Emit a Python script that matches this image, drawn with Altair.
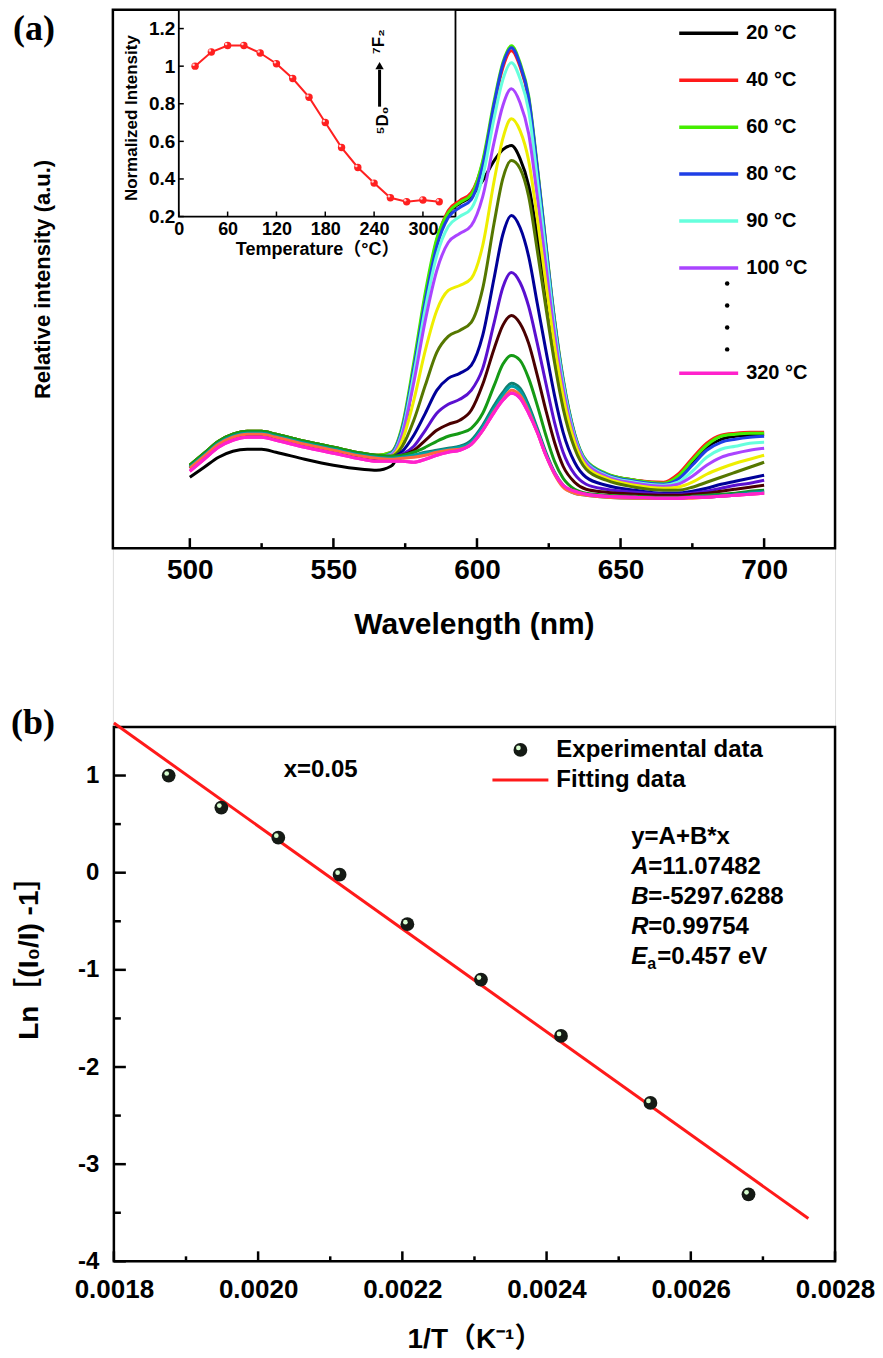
import altair as alt
import pandas as pd

FONT = "Liberation Sans, Arial, Noto Sans CJK SC, sans-serif"
SERIF = "Liberation Serif, Times New Roman, serif"

# ---------------- data: panel (a) spectra (relative intensity, a.u.) ----------------
wavelength = [500, 505, 510, 515, 520, 525, 530, 540, 550, 560, 565, 570, 574, 578, 582,
              586, 590, 594, 598, 602, 606, 609, 612, 615, 618, 621, 624, 627, 630, 634,
              638, 645, 655, 665, 670, 675, 680, 685, 690, 695, 700]

spectra_labels = ["20 °C", "40 °C", "60 °C", "80 °C", "90 °C", "100 °C", "120 °C", "140 °C",
                  "160 °C", "180 °C", "200 °C", "220 °C", "240 °C", "260 °C", "280 °C", "320 °C"]
spectra_colors = ["#000000", "#ff1a1a", "#44ee00", "#1f3fe6", "#66ffdd", "#aa44ff", "#eeee00",
                  "#557700", "#000099", "#5a10d0", "#4a0000", "#159a15", "#118070", "#00a0a8",
                  "#ff6a40", "#ff22cc"]

s20 = [23, 33, 43, 49, 51, 51, 48, 41, 35, 31, 30, 34, 60, 125, 200, 257, 287, 297, 304, 320, 340,
       351, 355, 342, 315, 265, 210, 155, 105, 60, 37, 26, 20, 17, 23, 38, 53, 61, 64, 65, 66]
s40 = [35, 47, 59, 66, 69, 69, 66, 59, 53, 47, 45, 48, 73, 134, 204, 260, 290, 300, 308, 338, 396,
       433, 450, 434, 401, 332, 255, 180, 120, 66, 39, 26, 20, 18, 26, 42, 57, 65, 67, 68, 68]
s60 = [35, 47, 59, 66, 69, 69, 66, 59, 53, 47, 45, 48, 75, 138, 208, 262, 288, 298, 306, 340, 400,
       438, 455, 438, 405, 335, 257, 182, 122, 67, 40, 27, 20, 17, 24, 40, 55, 64, 66, 67, 67]
s80 = [33, 45, 57, 64, 67, 67, 64, 57, 51, 45, 43, 47, 72, 132, 200, 254, 283, 293, 301, 335, 397,
       436, 453, 436, 403, 333, 255, 180, 120, 66, 39, 26, 19, 16, 21, 35, 50, 58, 61, 63, 64]
s90 = [33, 45, 57, 64, 67, 67, 64, 57, 51, 45, 43, 46, 69, 126, 192, 245, 274, 284, 292, 324, 383,
       421, 438, 422, 390, 322, 248, 175, 117, 64, 38, 25, 18, 15, 18, 29, 43, 51, 54, 57, 58]
s100 = [33, 45, 57, 64, 67, 67, 64, 57, 51, 45, 43, 45, 66, 118, 180, 230, 258, 267, 275, 304, 359,
        395, 412, 398, 367, 304, 235, 167, 112, 62, 37, 24, 17, 14, 16, 24, 35, 43, 47, 50, 52]
s120 = [33, 45, 57, 64, 67, 67, 64, 57, 51, 45, 43, 44, 60, 100, 150, 190, 210, 215, 222, 255, 320,
        362, 382, 370, 340, 282, 217, 155, 104, 58, 34, 22, 15, 12, 13, 18, 26, 32, 37, 41, 45]
s140 = [35, 47, 59, 66, 69, 69, 66, 59, 53, 47, 45, 44, 54, 80, 115, 148, 164, 170, 178, 212, 278,
        322, 340, 332, 304, 250, 193, 138, 92, 52, 31, 20, 13, 10, 10, 13, 18, 23, 28, 33, 38]
s160 = [32, 44, 56, 63, 66, 66, 63, 56, 50, 44, 42, 43, 49, 65, 87, 110, 122, 127, 135, 165, 223,
        266, 285, 273, 244, 197, 150, 105, 68, 38, 23, 15, 10, 7, 7, 9, 12, 16, 19, 22, 25]
s180 = [32, 44, 56, 63, 66, 66, 63, 56, 50, 44, 42, 43, 46, 54, 70, 87, 96, 101, 110, 132, 178,
        213, 228, 218, 194, 157, 117, 78, 48, 26, 16, 11, 8, 6, 6, 7, 9, 12, 15, 17, 20]
s200 = [32, 44, 56, 63, 66, 66, 63, 56, 50, 44, 42, 43, 45, 50, 60, 70, 76, 80, 90, 116, 152,
        175, 185, 177, 157, 125, 90, 58, 34, 18, 11, 8, 6, 5, 5, 6, 7, 9, 11, 13, 15]
s220 = [35, 47, 59, 66, 69, 69, 66, 59, 53, 47, 45, 44, 45, 48, 53, 59, 64, 67, 72, 87, 115,
        136, 145, 140, 122, 95, 65, 39, 22, 11, 7, 5, 4, 3, 3, 4, 5, 6, 7, 9, 10]
s240 = [33, 45, 57, 64, 67, 67, 64, 57, 51, 45, 43, 42, 43, 45, 48, 50, 52, 54, 60, 75, 95,
        108, 117, 112, 95, 72, 48, 28, 15, 8, 6, 4, 3, 2, 2, 3, 4, 5, 6, 8, 9]
s260 = [33, 45, 57, 64, 67, 67, 64, 57, 51, 45, 43, 42, 43, 45, 47, 49, 51, 53, 58, 73, 92,
        105, 114, 109, 92, 70, 46, 27, 14, 7, 5, 3, 2, 2, 2, 3, 3, 4, 5, 7, 8]
s280 = [32, 44, 56, 63, 66, 66, 63, 56, 50, 44, 42, 41, 42, 43, 45, 48, 50, 51, 56, 70, 89,
        101, 110, 105, 89, 68, 45, 26, 13, 7, 5, 3, 2, 2, 2, 2, 3, 4, 5, 6, 7]
s320 = [29, 41, 53, 60, 63, 63, 60, 53, 47, 41, 39, 39, 39, 38, 41, 45, 48, 50, 56, 70, 88,
        100, 107, 102, 87, 68, 45, 27, 15, 9, 6, 4, 3, 2, 2, 3, 3, 4, 5, 6, 7]
spectra_values = [s20, s40, s60, s80, s90, s100, s120, s140, s160, s180, s200, s220, s240,
                  s260, s280, s320]
legend_main = ["20 °C", "40 °C", "60 °C", "80 °C", "90 °C", "100 °C"]
legend_last = ["320 °C"]

# inset
inset_temp = [20, 40, 60, 80, 100, 120, 140, 160, 180, 200, 220, 240, 260, 280, 300, 320]
inset_norm = [1.0, 1.075, 1.11, 1.11, 1.07, 1.013, 0.934, 0.835, 0.70, 0.567, 0.461, 0.378,
              0.30, 0.279, 0.288, 0.279]

# ---------------- data: panel (b) ----------------
inv_T = [0.001876, 0.001949, 0.002028, 0.002113, 0.002207, 0.002309, 0.002420, 0.002544, 0.002680]
ln_ratio = [1.0, 0.67, 0.36, -0.02, -0.53, -1.10, -1.68, -2.37, -3.31]
fit_x = [0.0018, 0.002763]
fit_y = [1.54, -3.56]
legend_b = ["Experimental data", "Fitting data"]
fit_text = ["y=A+B*x", "=11.07482", "=-5297.6288", "=0.99754", "=0.457 eV"]

# tick values
xa_major = [500, 550, 600, 650, 700]
xa_minor = [525, 575, 625, 675]
xb_major = [0.0018, 0.0020, 0.0022, 0.0024, 0.0026, 0.0028]
xb_minor = [0.0019, 0.0021, 0.0023, 0.0025, 0.0027]
yb_major = [-4, -3, -2, -1, 0, 1]
yb_minor = [-3.5, -2.5, -1.5, -0.5, 0.5]
xi_major = [0, 60, 120, 180, 240, 300]
yi_major = [0.2, 0.4, 0.6, 0.8, 1.0, 1.2]

# ---------------- geometry ----------------
W, H = 723, 1253
A_H = 539
B_TOP = 718

rows = []
for lab, vals in zip(spectra_labels, spectra_values):
    for w, v in zip(wavelength, vals):
        rows.append({"label": lab, "wavelength": w, "intensity": v})
spec_df = pd.DataFrame(rows)
last_df = spec_df[spec_df["label"] == "320 °C"]
inset_df = pd.DataFrame({"T": inset_temp, "norm": inset_norm})
b_df = pd.DataFrame({"invT": inv_T, "ln": ln_ratio})
fit_df = pd.DataFrame({"invT": fit_x, "ln": fit_y})
dummy = pd.DataFrame({"d": [0]})

xa_scale = alt.Scale(domain=[473.2, 724.7], range=[0, W], nice=False, zero=False)
ya_scale = alt.Scale(domain=[-48, 491], range=[A_H, 0], nice=False, zero=False)
xb_scale = alt.Scale(domain=[0.0018, 0.0028], range=[1, W], nice=False, zero=False)
yb_scale = alt.Scale(domain=[-4, 1.5], range=[H, B_TOP], nice=False, zero=False)
xi_scale = alt.Scale(domain=[0, 340], range=[66, 343], nice=False, zero=False)
yi_scale = alt.Scale(domain=[0.2, 1.3], range=[207, 0], nice=False, zero=False)

lab_style = dict(labelFont=FONT, labelFontWeight="bold", labelColor="black",
                 titleFont=FONT, titleFontWeight="bold", titleColor="black",
                 ticks=False, domain=False, grid=False, labelFlush=False, labelOverlap=False)

# ---------------- panel (a) ----------------
lines = alt.Chart(spec_df).mark_line(strokeWidth=3, interpolate="monotone").encode(
    x=alt.X("wavelength:Q", scale=xa_scale,
            axis=alt.Axis(orient="bottom", offset=A_H - H, values=xa_major, labelFontSize=28,
                          labelPadding=8, title="Wavelength (nm)", titleFontSize=30,
                          titleY=76, titleBaseline="middle", **lab_style)),
    y=alt.Y("intensity:Q", scale=ya_scale,
            axis=alt.Axis(orient="left", labels=False, title="Relative intensity (a.u.)",
                          titleFontSize=22, titleX=-70, titleY=A_H / 2, titleAngle=270,
                          titleBaseline="middle", titleAlign="center", **lab_style)),
    color=alt.Color("label:N", scale=alt.Scale(domain=spectra_labels, range=spectra_colors),
                    legend=alt.Legend(title=None, orient="none", legendX=565, legendY=0,
                                      values=legend_main, symbolType="stroke", symbolSize=3481,
                                      symbolStrokeWidth=3.5, clipHeight=47, rowPadding=0,
                                      labelFont=FONT, labelFontSize=20, labelFontWeight="bold",
                                      labelColor="black", labelOffset=6, padding=0)),
    detail="label:N",
)

last_line = alt.Chart(last_df).mark_line(strokeWidth=3, interpolate="monotone").encode(
    x=alt.X("wavelength:Q", scale=xa_scale, axis=None),
    y=alt.Y("intensity:Q", scale=ya_scale, axis=None),
    stroke=alt.Stroke("label:N", scale=alt.Scale(domain=legend_last, range=["#ff22cc"]),
                      legend=alt.Legend(title=None, orient="none", legendX=565, legendY=340.5,
                                        symbolType="stroke", symbolSize=3481,
                                        symbolStrokeWidth=3.5, clipHeight=47, rowPadding=0,
                                        labelFont=FONT, labelFontSize=20, labelFontWeight="bold",
                                        labelColor="black", labelOffset=6, padding=0)),
)

dots = alt.Chart(pd.DataFrame({"k": [0, 1, 2, 3]})).mark_circle(size=20, color="black", opacity=1).encode(
    x=alt.value(615),
    y=alt.Y("k:Q", scale=alt.Scale(domain=[0, 3], range=[274, 340]), axis=None),
)

frame_a = alt.Chart(dummy).mark_rect(filled=False, stroke="black", strokeWidth=2.5).encode(
    x=alt.value(0), x2=alt.value(W), y=alt.value(0), y2=alt.value(A_H))

ticks_a_major = alt.Chart(pd.DataFrame({"v": xa_major})).mark_rule(color="black", strokeWidth=2.5).encode(
    x=alt.X("v:Q", scale=xa_scale, axis=None), y=alt.value(A_H), y2=alt.value(A_H - 10))
ticks_a_minor = alt.Chart(pd.DataFrame({"v": xa_minor})).mark_rule(color="black", strokeWidth=2.5).encode(
    x=alt.X("v:Q", scale=xa_scale, axis=None), y=alt.value(A_H), y2=alt.value(A_H - 5))

# inset
inset_frame = alt.Chart(dummy).mark_rect(filled=False, stroke="black", strokeWidth=1.8).encode(
    x=alt.value(66), x2=alt.value(343), y=alt.value(0), y2=alt.value(207))
inset_bg = alt.Chart(dummy).mark_rect(fill="white", opacity=1).encode(
    x=alt.value(66), x2=alt.value(343), y=alt.value(0), y2=alt.value(207))
inset_line = alt.Chart(inset_df).mark_line(color="#ff2020", strokeWidth=2).encode(
    x=alt.X("T:Q", scale=xi_scale,
            axis=alt.Axis(orient="bottom", offset=207 - H, values=xi_major, labelFontSize=18,
                          labelPadding=4, title="Temperature（°C）", titleFontSize=18,
                          titlePadding=2, **lab_style)),
    y=alt.Y("norm:Q", scale=yi_scale,
            axis=alt.Axis(orient="left", offset=-66, values=yi_major, format="~g",
                          labelFontSize=19, labelPadding=4, title="Normalized Intensity",
                          titleFontSize=17, titleX=-47, titleY=108, titleAngle=270,
                          titleBaseline="middle", titleAlign="center", **lab_style)),
)
inset_pts = alt.Chart(inset_df).mark_circle(size=55, color="#ff2020", opacity=1).encode(
    x=alt.X("T:Q", scale=xi_scale, axis=None), y=alt.Y("norm:Q", scale=yi_scale, axis=None))
inset_hl = alt.Chart(inset_df).mark_circle(size=6, color="#ffd0d0", opacity=1, xOffset=-1.5,
                                           yOffset=-1.5).encode(
    x=alt.X("T:Q", scale=xi_scale, axis=None), y=alt.Y("norm:Q", scale=yi_scale, axis=None))
ticks_i_x = alt.Chart(pd.DataFrame({"v": xi_major})).mark_rule(color="black", strokeWidth=1.5).encode(
    x=alt.X("v:Q", scale=xi_scale, axis=None), y=alt.value(207), y2=alt.value(202))
ticks_i_y = alt.Chart(pd.DataFrame({"v": yi_major})).mark_rule(color="black", strokeWidth=1.5).encode(
    y=alt.Y("v:Q", scale=yi_scale, axis=None), x=alt.value(66), x2=alt.value(71))


def text_mark(s, x, y, size=24, align="left", font=FONT, style="normal", angle=0):
    return alt.Chart(dummy).mark_text(text=s, fontSize=size, font=font, fontWeight="bold",
                                      fontStyle=style, color="black", align=align,
                                      baseline="middle", angle=angle).encode(
        x=alt.value(x), y=alt.value(y))


arrow_rule = alt.Chart(dummy).mark_rule(color="black", strokeWidth=3).encode(
    x=alt.value(267), y=alt.value(97), y2=alt.value(60))
arrow_head = alt.Chart(dummy).mark_point(shape="triangle-up", size=70, filled=True,
                                         color="black", opacity=1).encode(
    x=alt.value(267), y=alt.value(56))
lbl_5d0 = text_mark("⁵D₀", 270, 111, size=17, align="center", angle=270)
lbl_7f2 = text_mark("⁷F₂", 266, 32, size=17, align="center", angle=270)
label_a = text_mark("(a)", -79, 19, size=36, align="center", font=SERIF)

# ---------------- panel (b) ----------------
fit_line = alt.Chart(fit_df).mark_line(color="#ff1a1a", strokeWidth=3).encode(
    x=alt.X("invT:Q", scale=xb_scale,
            axis=alt.Axis(orient="bottom", offset=0, values=xb_major, format=".4f",
                          labelFontSize=26, labelPadding=15, title="1/T（K⁻¹）",
                          titleFontSize=28, titleY=78, titleBaseline="middle", **lab_style)),
    y=alt.Y("ln:Q", scale=yb_scale,
            axis=alt.Axis(orient="left", offset=0, values=yb_major,
                          labelExpr="(datum.value < 0 ? '-' : '') + abs(datum.value)",
                          labelFontSize=24, labelPadding=14, title="Ln［(I₀/I) -1］",
                          titleFontSize=28, titleX=-83, titleY=942, titleAngle=270,
                          titleBaseline="middle", titleAlign="center", **lab_style)),
)
pts_b = alt.Chart(b_df).mark_circle(size=190, color="#151a15", opacity=1).encode(
    x=alt.X("invT:Q", scale=xb_scale, axis=None), y=alt.Y("ln:Q", scale=yb_scale, axis=None))
pts_b_hl = alt.Chart(b_df).mark_circle(size=22, color="#d8ffd0", opacity=1, xOffset=-2,
                                       yOffset=-2).encode(
    x=alt.X("invT:Q", scale=xb_scale, axis=None), y=alt.Y("ln:Q", scale=yb_scale, axis=None))

frame_b = alt.Chart(dummy).mark_rect(filled=False, stroke="black", strokeWidth=2.5).encode(
    x=alt.value(1), x2=alt.value(W), y=alt.value(B_TOP), y2=alt.value(H))
ticks_bx_major = alt.Chart(pd.DataFrame({"v": xb_major})).mark_rule(color="black", strokeWidth=2.5).encode(
    x=alt.X("v:Q", scale=xb_scale, axis=None), y=alt.value(H), y2=alt.value(H - 10))
ticks_bx_minor = alt.Chart(pd.DataFrame({"v": xb_minor})).mark_rule(color="black", strokeWidth=2.5).encode(
    x=alt.X("v:Q", scale=xb_scale, axis=None), y=alt.value(H), y2=alt.value(H - 5))
ticks_by_major = alt.Chart(pd.DataFrame({"v": yb_major})).mark_rule(color="black", strokeWidth=2.5).encode(
    y=alt.Y("v:Q", scale=yb_scale, axis=None), x=alt.value(1), x2=alt.value(13))
ticks_by_minor = alt.Chart(pd.DataFrame({"v": yb_minor})).mark_rule(color="black", strokeWidth=2.5).encode(
    y=alt.Y("v:Q", scale=yb_scale, axis=None), x=alt.value(1), x2=alt.value(8))

leg_b_pt = alt.Chart(dummy).mark_circle(size=190, color="#151a15", opacity=1).encode(
    x=alt.value(408), y=alt.value(741))
leg_b_hl = alt.Chart(dummy).mark_circle(size=22, color="#d8ffd0", opacity=1).encode(
    x=alt.value(406), y=alt.value(739))
leg_b_line = alt.Chart(dummy).mark_rule(color="#ff1a1a", strokeWidth=3).encode(
    x=alt.value(380), x2=alt.value(436), y=alt.value(771))
leg_b_t1 = text_mark(legend_b[0], 444, 741)
leg_b_t2 = text_mark(legend_b[1], 444, 771)
x_note = text_mark("x=0.05", 171, 761)
X0 = 519
block = [
    text_mark(fit_text[0], X0, 828),
    text_mark("A", X0, 858, style="italic"), text_mark(fit_text[1], X0 + 17, 858),
    text_mark("B", X0, 888, style="italic"), text_mark(fit_text[2], X0 + 17, 888),
    text_mark("R", X0, 918, style="italic"), text_mark(fit_text[3], X0 + 17, 918),
    text_mark("E", X0, 948, style="italic"), text_mark("a", X0 + 16, 955, size=16),
    text_mark(fit_text[4], X0 + 26, 948),
]
label_b = text_mark("(b)", -80, 714, size=36, align="center", font=SERIF)

chart = alt.layer(
    frame_a, inset_bg, inset_frame, ticks_i_x, ticks_i_y, inset_line, inset_pts, inset_hl,
    arrow_rule, arrow_head, lbl_5d0, lbl_7f2,
    lines, last_line, dots, ticks_a_major, ticks_a_minor, label_a,
    frame_b, ticks_bx_major, ticks_bx_minor, ticks_by_major, ticks_by_minor,
    fit_line, pts_b, pts_b_hl, leg_b_pt, leg_b_hl, leg_b_line, leg_b_t1, leg_b_t2, x_note,
    *block, label_b,
).resolve_scale(x="independent", y="independent", color="independent", stroke="independent").properties(
    width=W, height=H,
    padding={"left": 105, "top": 1, "right": 40, "bottom": 97},
    autosize=alt.AutoSizeParams(type="none"),
).configure_view(stroke=None).configure(background="white")

chart.save("out.html", embed_options={"renderer": "svg", "actions": False})
